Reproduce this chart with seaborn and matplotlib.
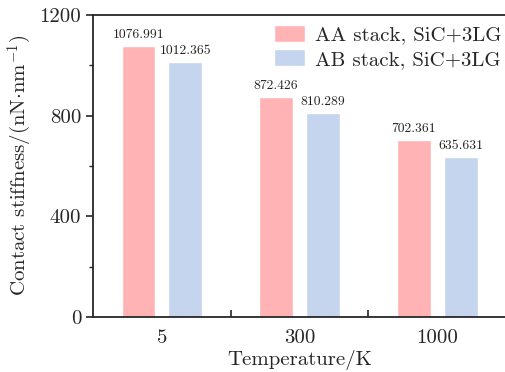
import matplotlib
matplotlib.use("Agg")
import matplotlib.pyplot as plt
from matplotlib.ticker import MultipleLocator
import seaborn as sns
import pandas as pd

temperatures = ["5", "300", "1000"]
aa_stiffness = [1076.991, 872.426, 702.361]
ab_stiffness = [1012.365, 810.289, 635.631]
series_names = ["AA stack, SiC+3LG", "AB stack, SiC+3LG"]
colors = ["#FFB3B5", "#C5D5EE"]

df = pd.DataFrame({
    "Temperature": temperatures * 2,
    "Stiffness": aa_stiffness + ab_stiffness,
    "Stack": [series_names[0]] * 3 + [series_names[1]] * 3,
})

sns.set_style("ticks")
plt.rcParams["font.family"] = "serif"
plt.rcParams["font.serif"] = ["cmr10", "DejaVu Serif"]
plt.rcParams["mathtext.fontset"] = "cm"
plt.rcParams["axes.unicode_minus"] = False

fig = plt.figure(figsize=(5.06, 3.72), dpi=100)
ax = fig.add_axes([0.184, 0.148, 0.816, 0.812])

sns.barplot(data=df, x="Temperature", y="Stiffness", hue="Stack",
            order=temperatures, hue_order=series_names, palette=colors,
            width=0.68, gap=0.276, saturation=1, ax=ax, legend=True)

for container in ax.containers:
    ax.bar_label(container, labels=[f"{v:.3f}" for v in container.datavalues],
                 fontsize=9.8, padding=3.5, color="#222222")

ax.set_xlim(-0.5, 2.5)
ax.set_ylim(0, 1200)
ax.yaxis.set_major_locator(MultipleLocator(400))
ax.yaxis.set_minor_locator(MultipleLocator(200))
ax.set_xticks([0, 1, 2])
ax.set_xticklabels(temperatures)
ax.set_xticks([0.5, 1.5], minor=True)
ax.tick_params(axis="x", which="major", length=0, labelsize=15, pad=9)
ax.tick_params(axis="x", which="minor", length=5, width=1.2, direction="in")
ax.tick_params(axis="y", which="major", length=5, width=1.2, labelsize=15, direction="out")
ax.tick_params(axis="y", which="minor", length=3, width=1.0, direction="out")

for side in ["left", "bottom", "top"]:
    ax.spines[side].set_linewidth(1.3)
ax.spines["right"].set_visible(False)

ax.set_xlabel("Temperature/K", fontsize=15, labelpad=2)
ax.set_ylabel(r"Contact stiffness/(nN$\cdot$nm$^{-1}$)", fontsize=15, labelpad=4)

ax.legend(loc="upper right", bbox_to_anchor=(1.0, 0.98), frameon=False,
          fontsize=15, handlelength=1.5, handleheight=0.85, handletextpad=0.5,
          labelspacing=0.22, borderaxespad=0.0, borderpad=0.2, title=None)

fig.savefig("out.png", dpi=100)
